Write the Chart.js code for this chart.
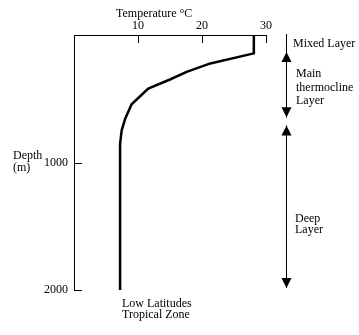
<!DOCTYPE html>
<html>
<head>
<meta charset="utf-8">
<script src="https://cdn.jsdelivr.net/npm/chart.js@4/dist/chart.umd.min.js"></script>
<style>
  html, body { margin: 0; padding: 0; background: #fff; }
  #wrap { width: 359px; height: 335px; }
</style>
</head>
<body>
<div id="wrap"><canvas id="grafica"></canvas></div>
<script>
// Perfil de temperatura
const temperaturas = [28.1, 28.1, 21.3, 17.6, 15.0, 11.6, 9.0, 8.0, 7.45, 7.2, 7.2]
const profundidades = [0, 144, 223, 289, 349, 420, 543, 656, 748, 853, 2000]

const ticksTemp = [10, 20, 30]
const ticksProf = [1000, 2000]

// Capas: [desde, hasta] en metros
const capaMezcla = [0, 134]
const capaTermoclina = [134, 646]
const capaProfunda = [709, 1984]

const FUENTE = '12px "Liberation Serif", "Times New Roman", serif'

function flecha(ctx, x, y, dir) {
  // dir = -1 punta hacia arriba, 1 hacia abajo
  ctx.beginPath()
  ctx.moveTo(x, y)
  ctx.lineTo(x - 5, y - dir * 10)
  ctx.lineTo(x + 5, y - dir * 10)
  ctx.closePath()
  ctx.fill()
}

function flechaDoble(ctx, x, ys, ye) {
  ctx.beginPath()
  ctx.moveTo(x + 0.5, ys)
  ctx.lineTo(x + 0.5, ye)
  ctx.stroke()
  flecha(ctx, x + 0.5, ys, -1)
  flecha(ctx, x + 0.5, ye, 1)
}

const decoraciones = {
  id: 'decoraciones',
  afterDraw(chart) {
    const { ctx, chartArea, scales } = chart
    const sx = scales.x
    const sy = scales.y
    ctx.save()
    ctx.strokeStyle = '#000'
    ctx.fillStyle = '#000'
    ctx.lineWidth = 1

    // marcas hacia adentro
    ctx.beginPath()
    ticksTemp.forEach(t => {
      const px = Math.round(sx.getPixelForValue(t)) + 0.5
      ctx.moveTo(px, chartArea.top)
      ctx.lineTo(px, chartArea.top + 8)
    })
    ticksProf.forEach(d => {
      const py = Math.round(sy.getPixelForValue(d)) + 0.5
      ctx.moveTo(chartArea.left, py)
      ctx.lineTo(chartArea.left + 8, py)
    })
    ctx.stroke()

    // capas a la derecha
    const ax = Math.round(chartArea.right + 20)
    ctx.beginPath()
    ctx.moveTo(ax + 0.5, sy.getPixelForValue(capaMezcla[0]) - 1)
    ctx.lineTo(ax + 0.5, sy.getPixelForValue(capaMezcla[1]))
    ctx.stroke()
    flechaDoble(ctx, ax, sy.getPixelForValue(capaTermoclina[0]), sy.getPixelForValue(capaTermoclina[1]))
    flechaDoble(ctx, ax, sy.getPixelForValue(capaProfunda[0]), sy.getPixelForValue(capaProfunda[1]))

    // textos
    ctx.font = FUENTE
    ctx.textAlign = 'left'
    ctx.textBaseline = 'alphabetic'
    ctx.fillText('Temperature \u00B0C', 116, 17)
    ctx.fillText('Depth', 13, 159)
    ctx.fillText('(m)', 13, 171)
    ctx.fillText('Mixed Layer', 293, 47)
    ctx.fillText('Main', 296, 77)
    ctx.fillText('thermocline', 296, 90.5)
    ctx.fillText('Layer', 296, 104)
    ctx.fillText('Deep', 295, 222)
    ctx.fillText('Layer', 295, 233)
    ctx.fillText('Low Latitudes', 122, 306.5)
    ctx.fillText('Tropical Zone', 122, 317.5)
    ctx.restore()
  }
}

Chart.defaults.font.family = '"Liberation Serif", "Times New Roman", serif'
Chart.defaults.font.size = 12
Chart.defaults.color = '#000'

new Chart(document.getElementById('grafica'), {
  type: 'line',
  data: {
    datasets: [{
      data: temperaturas.map((t, i) => ({ x: t, y: profundidades[i] })),
      borderColor: '#000',
      borderWidth: 2.5,
      pointRadius: 0,
      tension: 0,
      fill: false
    }]
  },
  options: {
    responsive: true,
    maintainAspectRatio: false,
    animation: false,
    events: [],
    layout: { padding: { left: 0, top: 0, right: 93, bottom: 45 } },
    plugins: { legend: { display: false }, tooltip: { enabled: false } },
    scales: {
      x: {
        type: 'linear',
        position: 'top',
        min: 0,
        max: 30,
        grid: { display: false, drawTicks: false },
        border: { display: true, color: '#000', width: 1 },
        ticks: {
          stepSize: 10,
          padding: 2,
          maxRotation: 0,
          callback: v => ticksTemp.includes(v) ? String(v) : ''
        },
        afterFit(scale) { scale.height = 35 }
      },
      y: {
        type: 'linear',
        reverse: true,
        min: 0,
        max: 2000,
        grid: { display: false, drawTicks: false },
        border: { display: true, color: '#000', width: 1 },
        ticks: {
          stepSize: 1000,
          padding: 6,
          callback: v => ticksProf.includes(v) ? String(v) : ''
        },
        afterFit(scale) { scale.width = 74 }
      }
    }
  },
  plugins: [decoraciones]
})
</script>
</body>
</html>
